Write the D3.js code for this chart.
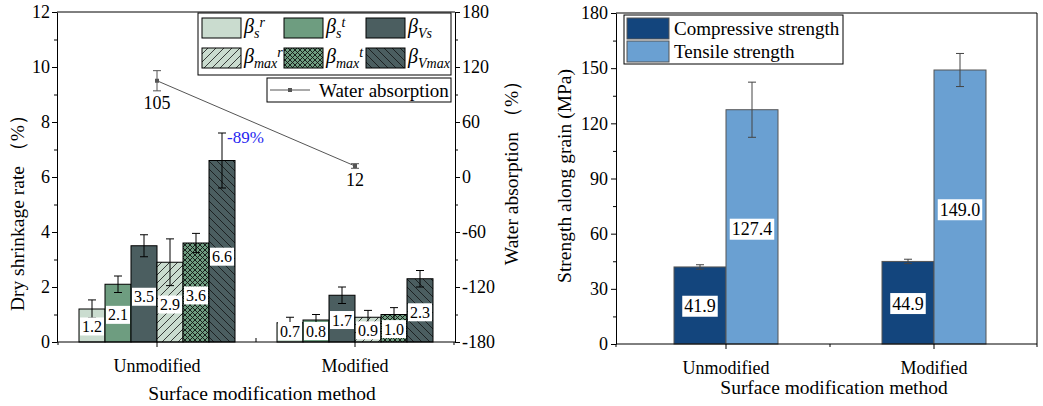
<!DOCTYPE html>
<html>
<head>
<meta charset="utf-8" />
<title>Dry shrinkage and strength</title>
<script src="https://cdnjs.cloudflare.com/ajax/libs/d3/7.8.5/d3.min.js"></script>
<style>
  body { margin: 0; background: #fff; }
  svg text { font-family: "Liberation Serif", "Times New Roman", serif; fill: #000; }
</style>
</head>
<body>
<div id="chart"></div>
<script>
// ---- data ----
const categories = ["Unmodified", "Modified"];
const shrinkKeys = ["sr", "st", "vs", "mr", "mt", "vm"];
const shrinkUnmodified = [1.2, 2.1, 3.5, 2.9, 3.6, 6.6];
const shrinkModified = [0.7, 0.8, 1.7, 0.9, 1.0, 2.3];
const shrinkErrUnmodified = [0.33, 0.3, 0.4, 0.85, 0.35, 1.0];
const shrinkErrModified = [0.2, 0.2, 0.3, 0.25, 0.25, 0.3];
const waterAbsorption = [105, 12];
const waterErr = [11, 2.5];
const compressive = [41.9, 44.9];
const compressiveErr = [1.2, 1.2];
const tensile = [127.4, 149.0];
const tensileErr = [15, 9];
const strengthKeys = ["Compressive strength", "Tensile strength"];
const shrinkTicks = [0, 2, 4, 6, 8, 10, 12];
const waterTicks = [-180, -120, -60, 0, 60, 120, 180];
const strengthTicks = [0, 30, 60, 90, 120, 150, 180];
const reductionLabel = "-89%";

// legend labels: base, subscript, superscript
const shrinkLegend = [
  ["β", "s", "r"], ["β", "s", "t"], ["β", "Vs", ""],
  ["β", "max", "r"], ["β", "max", "t"], ["β", "Vmax", ""]
];

const fills = {
  sr: "#cadccf", st: "#6e9d80", vs: "#4b5e60",
  mr: "url(#hatchFwd)", mt: "url(#hatchCross)", vm: "url(#hatchBack)"
};
const strengthColors = ["#13457d", "#6aa0d2"];

const svg = d3.select("#chart").append("svg")
  .attr("width", 1043).attr("height", 406);

// ---- patterns ----
const defs = svg.append("defs");
function pattern(id, bg, d, size, sw) {
  const p = defs.append("pattern").attr("id", id)
    .attr("patternUnits", "userSpaceOnUse")
    .attr("width", size).attr("height", size);
  p.append("rect").attr("width", size).attr("height", size).attr("fill", bg);
  p.append("path").attr("d", d).attr("stroke", "#111")
    .attr("stroke-width", sw).attr("fill", "none");
}
pattern("hatchFwd", "#cadccf", "M0,8 L8,0 M-2,2 L2,-2 M6,10 L10,6", 8, 0.8);
pattern("hatchBack", "#4b5e60", "M0,0 L8,8 M-2,6 L2,10 M6,-2 L10,2", 8, 0.8);
pattern("hatchCross", "#6e9d80", "M0,0 L5,5 M0,5 L5,0", 5, 0.9);

function styleAxis(g, size) {
  g.attr("font-family", "Liberation Serif, serif").attr("font-size", size);
  g.selectAll("text").attr("fill", "#000");
  g.selectAll("line, path").attr("stroke", "#000");
}

// ================= left chart =================
const L = { left: 57, right: 455, top: 12, bottom: 342 };
const yS = d3.scaleLinear().domain([0, 12]).range([L.bottom, L.top]);
const yW = d3.scaleLinear().domain([-180, 180]).range([L.bottom, L.top]);
const x0 = d3.scaleBand().domain(categories).range([58, 454]);
const x1 = d3.scaleBand().domain(shrinkKeys).range([-78, 78]);

const left = svg.append("g");

// frame top line
left.append("line").attr("x1", L.left).attr("x2", L.right)
  .attr("y1", L.top).attr("y2", L.top).attr("stroke", "#000");

const shrinkRows = categories.map((c, i) => ({
  cat: c,
  vals: i === 0 ? shrinkUnmodified : shrinkModified,
  errs: i === 0 ? shrinkErrUnmodified : shrinkErrModified
}));

const bars = [];
shrinkRows.forEach(r => {
  shrinkKeys.forEach((k, j) => bars.push({ cat: r.cat, key: k, v: r.vals[j], e: r.errs[j] }));
});
const bx = d => x0(d.cat) + x0.bandwidth() / 2 + x1(d.key);

left.selectAll(".sbar").data(bars).join("rect")
  .attr("class", "sbar")
  .attr("x", bx)
  .attr("y", d => yS(d.v))
  .attr("width", x1.bandwidth())
  .attr("height", d => yS(0) - yS(d.v))
  .attr("fill", d => fills[d.key])
  .attr("stroke", "#000").attr("stroke-width", 1);

// error bars
const eb = left.selectAll(".serr").data(bars).join("g").attr("class", "serr")
  .attr("stroke", "#000").attr("stroke-width", 1);
eb.append("line")
  .attr("x1", d => bx(d) + x1.bandwidth() / 2).attr("x2", d => bx(d) + x1.bandwidth() / 2)
  .attr("y1", d => yS(d.v - d.e)).attr("y2", d => yS(d.v + d.e));
eb.append("line")
  .attr("x1", d => bx(d) + x1.bandwidth() / 2 - 4).attr("x2", d => bx(d) + x1.bandwidth() / 2 + 4)
  .attr("y1", d => yS(d.v + d.e)).attr("y2", d => yS(d.v + d.e));
eb.append("line")
  .attr("x1", d => bx(d) + x1.bandwidth() / 2 - 4).attr("x2", d => bx(d) + x1.bandwidth() / 2 + 4)
  .attr("y1", d => yS(d.v - d.e)).attr("y2", d => yS(d.v - d.e));

// value labels with white boxes
function boxedLabel(g, cx, cy, text, fs, padX, h) {
  const t = g.append("text").attr("x", cx).attr("y", cy)
    .attr("text-anchor", "middle").attr("dominant-baseline", "central")
    .attr("font-size", fs).text(text);
  const w = t.node().getComputedTextLength();
  g.insert("rect", () => t.node())
    .attr("x", cx - w / 2 - padX).attr("y", cy - h / 2)
    .attr("width", w + padX * 2).attr("height", h).attr("fill", "#fff");
}
const labG = left.append("g");
bars.forEach(d => {
  const cy = Math.min(yS(d.v * 0.47), yS(0) - 11);
  boxedLabel(labG, bx(d) + x1.bandwidth() / 2, cy, d.v.toFixed(1), 16, 2, 18);
});

// water absorption line
const wpts = categories.map((c, i) => ({ x: x0(c) + x0.bandwidth() / 2, v: waterAbsorption[i], e: waterErr[i] }));
left.append("path").datum(wpts)
  .attr("d", d3.line().x(d => d.x).y(d => yW(d.v)))
  .attr("fill", "none").attr("stroke", "#555").attr("stroke-width", 1);
const wg = left.selectAll(".werr").data(wpts).join("g").attr("stroke", "#555");
wg.append("line").attr("x1", d => d.x).attr("x2", d => d.x)
  .attr("y1", d => yW(d.v - d.e)).attr("y2", d => yW(d.v + d.e));
wg.append("line").attr("x1", d => d.x - 4).attr("x2", d => d.x + 4)
  .attr("y1", d => yW(d.v + d.e)).attr("y2", d => yW(d.v + d.e));
wg.append("line").attr("x1", d => d.x - 4).attr("x2", d => d.x + 4)
  .attr("y1", d => yW(d.v - d.e)).attr("y2", d => yW(d.v - d.e));
left.selectAll(".wpt").data(wpts).join("rect")
  .attr("x", d => d.x - 2).attr("y", d => yW(d.v) - 2)
  .attr("width", 4).attr("height", 4).attr("fill", "#555");
left.selectAll(".wlab").data(wpts).join("text")
  .attr("x", d => d.x).attr("y", d => yW(d.v - d.e) + 18)
  .attr("text-anchor", "middle").attr("font-size", 18)
  .text(d => d.v);

// reduction note next to the tallest unmodified bar
const tallest = bars[5];
left.append("text")
  .attr("x", bx(tallest) + x1.bandwidth() / 2 + 5)
  .attr("y", yS(tallest.v + tallest.e) + 10)
  .attr("font-size", 17).style("fill", "#2626f0")
  .text(reductionLabel);

// axes
const axL = left.append("g").attr("transform", `translate(${L.left},0)`)
  .call(d3.axisLeft(yS).tickValues(shrinkTicks).tickSize(5).tickSizeOuter(0).tickPadding(2));
styleAxis(axL, 18);
const axLm = left.append("g").attr("transform", `translate(${L.left},0)`)
  .call(d3.axisLeft(yS).tickValues(d3.range(1, 12, 2)).tickSize(3).tickFormat(""));
axLm.select(".domain").remove(); styleAxis(axLm, 18);

const axR = left.append("g").attr("transform", `translate(${L.right},0)`)
  .call(d3.axisRight(yW).tickValues(waterTicks).tickSize(5).tickSizeOuter(0).tickPadding(2)
    .tickFormat(d => d));
styleAxis(axR, 18);
const axRm = left.append("g").attr("transform", `translate(${L.right},0)`)
  .call(d3.axisRight(yW).tickValues(d3.range(-150, 180, 60)).tickSize(3).tickFormat(""));
axRm.select(".domain").remove(); styleAxis(axRm, 18);

const axB = left.append("g").attr("transform", `translate(0,${L.bottom})`)
  .call(d3.axisBottom(x0).tickSize(5).tickSizeOuter(0).tickPadding(12));
axB.select(".domain").attr("d", `M${L.left},0H${L.right}`);
styleAxis(axB, 18);
[x0.range()[0], x0.range()[1]].forEach(v =>
  axB.append("line").attr("x1", v).attr("x2", v).attr("y1", 0).attr("y2", 3).attr("stroke", "#000"));
axB.append("line").attr("x1", x0("Modified")).attr("x2", x0("Modified"))
  .attr("y1", 0).attr("y2", -4).attr("stroke", "#000");

left.append("text").attr("x", (L.left + L.right) / 2 + 6).attr("y", 400)
  .attr("text-anchor", "middle").attr("font-size", 19.5).text("Surface modification method");
left.append("text").attr("transform", "translate(24,208) rotate(-90)")
  .attr("text-anchor", "middle").attr("font-size", 19.5).text("Dry shrinkage rate （%）");
left.append("text").attr("transform", "translate(518,168) rotate(-90)")
  .attr("text-anchor", "middle").attr("font-size", 19.5).text("Water absorption （%）");

// legend
const lg = left.append("g");
lg.append("rect").attr("x", 198).attr("y", 13).attr("width", 253).attr("height", 62)
  .attr("fill", "#fff").attr("stroke", "#000");
shrinkKeys.forEach((k, i) => {
  const cx = 202 + (i % 3) * 82, cy = 18 + Math.floor(i / 3) * 30;
  lg.append("rect").attr("x", cx).attr("y", cy).attr("width", 39).attr("height", 20)
    .attr("fill", fills[k]).attr("stroke", "#000");
  const [b, sub, sup] = shrinkLegend[i];
  const t = lg.append("text").attr("x", cx + 42).attr("y", cy + 15)
    .attr("font-style", "italic").attr("font-size", 20);
  t.append("tspan").text(b);
  t.append("tspan").attr("dy", 5).attr("font-size", 14).text(sub);
  if (sup) t.append("tspan").attr("dy", -11).attr("font-size", 14).text(sup);
});
lg.append("rect").attr("x", 267).attr("y", 78).attr("width", 184).attr("height", 24)
  .attr("fill", "#fff").attr("stroke", "#000");
lg.append("line").attr("x1", 270).attr("x2", 310).attr("y1", 90).attr("y2", 90)
  .attr("stroke", "#555");
lg.append("rect").attr("x", 288).attr("y", 88).attr("width", 4).attr("height", 4).attr("fill", "#555");
lg.append("text").attr("x", 319).attr("y", 97).attr("font-size", 19).text("Water absorption");

// ================= right chart =================
const R = { left: 616, right: 1037, top: 13, bottom: 344 };
const yP = d3.scaleLinear().domain([0, 180]).range([R.bottom, R.top]);
const xc = d3.scaleBand().domain(categories).range([622, 1038]);
const xs = d3.scaleBand().domain(strengthKeys).range([-52, 52]);

const right = svg.append("g");
right.append("path").attr("d", `M${R.left},${R.top}H${R.right}V${R.bottom}`)
  .attr("fill", "none").attr("stroke", "#000");

const sbars = [];
categories.forEach((c, i) => {
  sbars.push({ cat: c, key: strengthKeys[0], v: compressive[i], e: compressiveErr[i], col: strengthColors[0] });
  sbars.push({ cat: c, key: strengthKeys[1], v: tensile[i], e: tensileErr[i], col: strengthColors[1] });
});
const sx = d => xc(d.cat) + xc.bandwidth() / 2 + xs(d.key);

right.selectAll(".pbar").data(sbars).join("rect")
  .attr("x", sx).attr("y", d => yP(d.v))
  .attr("width", xs.bandwidth()).attr("height", d => yP(0) - yP(d.v))
  .attr("fill", d => d.col).attr("stroke", "#555").attr("stroke-width", 1);

const pe = right.selectAll(".perr").data(sbars).join("g").attr("stroke", "#444");
pe.append("line").attr("x1", d => sx(d) + xs.bandwidth() / 2).attr("x2", d => sx(d) + xs.bandwidth() / 2)
  .attr("y1", d => yP(d.v - d.e)).attr("y2", d => yP(d.v + d.e));
pe.append("line").attr("x1", d => sx(d) + xs.bandwidth() / 2 - 4).attr("x2", d => sx(d) + xs.bandwidth() / 2 + 4)
  .attr("y1", d => yP(d.v + d.e)).attr("y2", d => yP(d.v + d.e));
pe.append("line").attr("x1", d => sx(d) + xs.bandwidth() / 2 - 4).attr("x2", d => sx(d) + xs.bandwidth() / 2 + 4)
  .attr("y1", d => yP(d.v - d.e)).attr("y2", d => yP(d.v - d.e));

const plab = right.append("g");
sbars.forEach(d => boxedLabel(plab, sx(d) + xs.bandwidth() / 2, yP(d.v * 0.49), d.v.toFixed(1), 18, 2, 21));

const axP = right.append("g").attr("transform", `translate(${R.left},0)`)
  .call(d3.axisLeft(yP).tickValues(strengthTicks).tickSize(5).tickSizeOuter(0).tickPadding(3));
styleAxis(axP, 18);
const axPm = right.append("g").attr("transform", `translate(${R.left},0)`)
  .call(d3.axisLeft(yP).tickValues(d3.range(15, 180, 30)).tickSize(3).tickFormat(""));
axPm.select(".domain").remove(); styleAxis(axPm, 18);

const axPB = right.append("g").attr("transform", `translate(0,${R.bottom})`)
  .call(d3.axisBottom(xc).tickSize(5).tickSizeOuter(0).tickPadding(12));
axPB.select(".domain").attr("d", `M${R.left},0H${R.right}`);
styleAxis(axPB, 18);
[R.left, xc("Modified"), R.right].forEach(v =>
  axPB.append("line").attr("x1", v).attr("x2", v).attr("y1", 0).attr("y2", 3).attr("stroke", "#000"));

right.append("text").attr("x", 834).attr("y", 394)
  .attr("text-anchor", "middle").attr("font-size", 19.5).text("Surface modification method");
right.append("text").attr("transform", "translate(571,176) rotate(-90)")
  .attr("text-anchor", "middle").attr("font-size", 19.5).text("Strength along grain (MPa)");

const rl = right.append("g");
rl.append("rect").attr("x", 624).attr("y", 15).attr("width", 219).attr("height", 49)
  .attr("fill", "#fff").attr("stroke", "#000");
strengthKeys.forEach((k, i) => {
  rl.append("rect").attr("x", 627).attr("y", 18 + i * 23).attr("width", 42).attr("height", 21)
    .attr("fill", strengthColors[i]).attr("stroke", "#555");
  rl.append("text").attr("x", 674).attr("y", 35 + i * 23).attr("font-size", 19).text(k);
});
</script>
</body>
</html>
